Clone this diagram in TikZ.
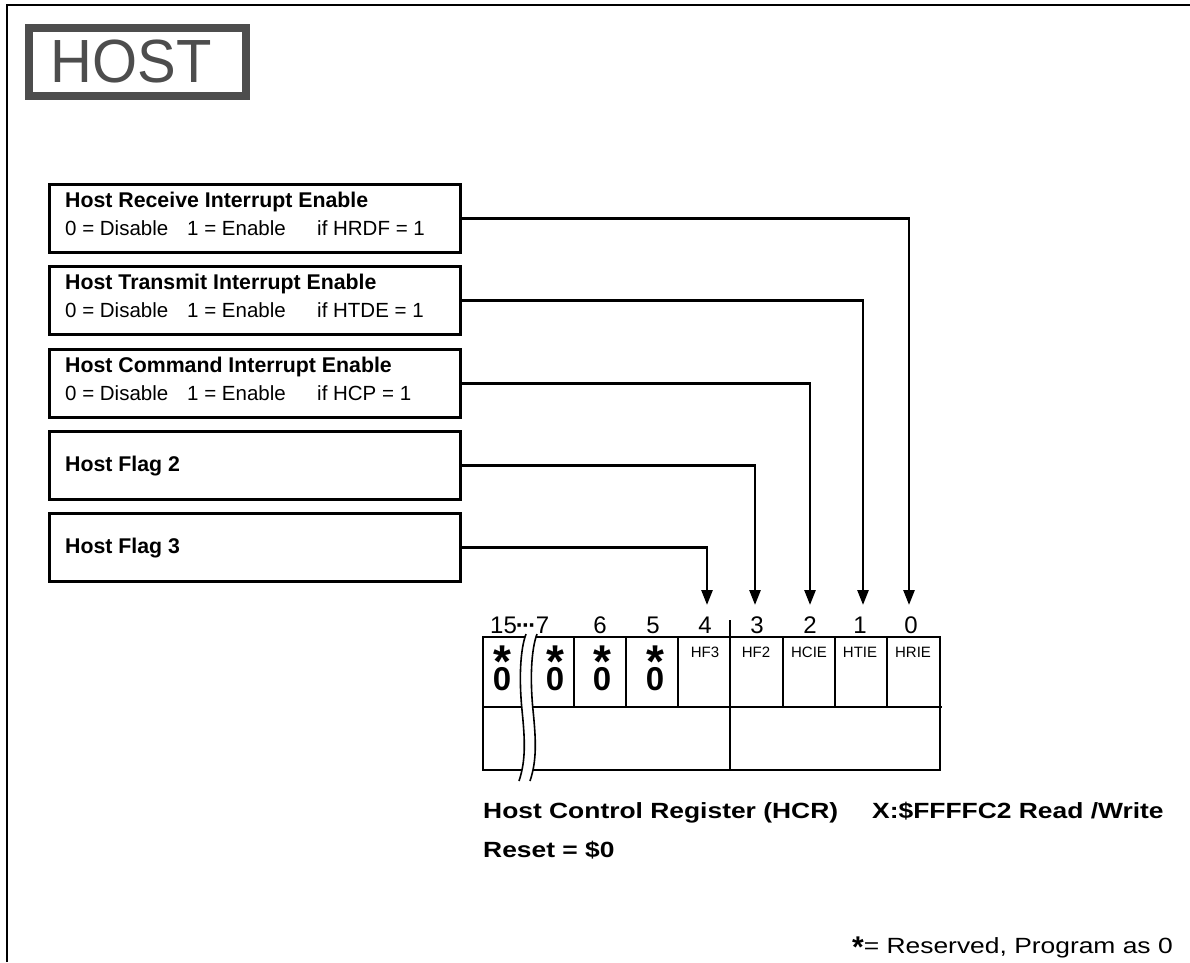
\documentclass[tikz,border=0pt]{standalone}
\usepackage{fontspec}
\usepackage{graphicx}
\setmainfont{Liberation Sans}
\usetikzlibrary{arrows.meta}
\newcommand{\fs}[1]{\fontsize{#1}{#1}\selectfont}
\newcommand{\xstretch}[2]{\scalebox{#1}[1]{#2}}
\newcommand{\starzero}{\makebox[18pt][c]{\fs{33}\bfseries 0}\kern-18pt\makebox[18pt][c]{\raisebox{12.5pt}{\fs{46}\bfseries *}}}
\definecolor{hostgray}{HTML}{4D4D4D}
\begin{document}
\begin{tikzpicture}[x=1pt,y=-1pt,
  frameline/.style={line width=2.5pt},
  hostframe/.style={draw=hostgray, line width=8pt, minimum width=217pt, minimum height=68pt, inner sep=0pt},
  hosttext/.style={text=hostgray, font=\fs{61}, anchor=base, inner sep=0pt},
  infobox/.style={draw, line width=2.8pt, minimum width=411pt, minimum height=68pt, anchor=north west, inner sep=0pt},
  boxtitle/.style={anchor=base west, inner sep=0pt, font=\fs{21.3}\bfseries},
  boxdesc/.style={anchor=base west, inner sep=0pt, font=\fs{20.5}},
  conn/.style={line width=2.6pt, -{Triangle[length=15pt,width=11pt]}},
  reg/.style={line width=2.5pt},
  breakline/.style={line width=1.6pt},
  bitnum/.style={anchor=base, inner sep=0pt, font=\fs{24}},
  rescell/.style={anchor=base, inner sep=0pt},
  cellname/.style={anchor=base, inner sep=0pt, font=\fs{15}},
  caption/.style={anchor=base west, inner sep=0pt, font=\fs{22}\bfseries},
  note/.style={anchor=base west, inner sep=0pt, font=\fs{22}}
]
\useasboundingbox (0,0) rectangle (1190,962);

% page frame (top and left)
\draw[frameline] (7,962) -- (7,5) -- (1190,5);

% HOST title
\node[hostframe] (hostbox) at (137.5,62) {};
\node[hosttext] (hostlabel) at (131,82) {\xstretch{0.95}{HOST}};

% description boxes
\node[infobox] (b1) at (48,183) {};
\node[infobox] (b2) at (48,265) {};
\node[infobox] (b3) at (48,348) {};
\node[infobox] (b4) at (48,430) {};
\node[infobox] (b5) at (48,512) {};

\node[boxtitle] (t1) at (65,207) {Host Receive Interrupt Enable};
\node[boxdesc] (d1a) at (65,235) {0 = Disable};
\node[boxdesc] (d1b) at (187,235) {1 = Enable};
\node[boxdesc] (d1c) at (317,235) {if HRDF = 1};

\node[boxtitle] (t2) at (65,289) {Host Transmit Interrupt Enable};
\node[boxdesc] (d2a) at (65,317) {0 = Disable};
\node[boxdesc] (d2b) at (187,317) {1 = Enable};
\node[boxdesc] (d2c) at (317,317) {if HTDE = 1};

\node[boxtitle] (t3) at (65,372) {Host Command Interrupt Enable};
\node[boxdesc] (d3a) at (65,400) {0 = Disable};
\node[boxdesc] (d3b) at (187,400) {1 = Enable};
\node[boxdesc] (d3c) at (317,400) {if HCP = 1};

\node[boxtitle] (t4) at (65,471) {Host Flag 2};
\node[boxtitle] (t5) at (65,553) {Host Flag 3};

% arrow targets
\coordinate (p0) at (909,605);
\coordinate (p1) at (863,605);
\coordinate (p2) at (810,605);
\coordinate (p3) at (755,605);
\coordinate (p4) at (707,605);

\draw[conn] (b1.east) -| (p0);
\draw[conn] (b2.east) -| (p1);
\draw[conn] (b3.east) -| (p2);
\draw[conn] (b4.east) -| (p3);
\draw[conn] (b5.east) -| (p4);

% register
\draw[reg] (483,637) rectangle (940,770);
\draw[reg] (483,707) -- (942,707);
\foreach \x in {574,626,678,783,835,887} \draw[reg] (\x,637) -- (\x,707);
\draw[reg] (730,620) -- (730,770);

% break
\fill[white] (526,634) .. controls (520,650) and (519,680) .. (522,710)
  .. controls (525,740) and (526,760) .. (519,781) -- (530,781)
  .. controls (537,760) and (536,740) .. (533,710)
  .. controls (530,680) and (531,650) .. (537,634) -- cycle;
\draw[breakline] (526,634) .. controls (520,650) and (519,680) .. (522,710)
  .. controls (525,740) and (526,760) .. (519,781);
\draw[breakline] (537,634) .. controls (531,650) and (530,680) .. (533,710)
  .. controls (536,740) and (537,760) .. (530,781);

% bit numbers
\node[bitnum, anchor=base west] (n15) at (490,633) {15\kern-1pt\textbf{·\kern-1.8pt·\kern-1.8pt·}\kern-0.5pt7};
\node[bitnum] (n6) at (600,633) {6};
\node[bitnum] (n5) at (653,633) {5};
\node[bitnum] (n4) at (705,633) {4};
\node[bitnum] (n3) at (757,633) {3};
\node[bitnum] (n2) at (810,633) {2};
\node[bitnum] (n1) at (860,633) {1};
\node[bitnum] (n0) at (911,633) {0};

% reserved cells
\node[rescell] (c15) at (502,690) {\starzero};
\node[rescell] (c7) at (555,690) {\starzero};
\node[rescell] (c6) at (602,690) {\starzero};
\node[rescell] (c5) at (655,690) {\starzero};

% named cells
\node[cellname] (hf3) at (705,657) {HF3};
\node[cellname] (hf2) at (756,657) {HF2};
\node[cellname] (hcie) at (809,657) {HCIE};
\node[cellname] (htie) at (860,657) {HTIE};
\node[cellname] (hrie) at (913,657) {HRIE};

% caption
\node[caption] (cap1) at (483,818) {\xstretch{1.2}{Host Control Register (HCR)}};
\node[caption] (cap2) at (872,818) {\xstretch{1.2}{X:\$FFFFC2 Read /Write}};
\node[caption] (cap3) at (483,857) {\xstretch{1.2}{Reset = \$0}};

% note
\node[note] (notetext) at (852,953) {\raisebox{-4pt}{\fs{30}\bfseries *}\xstretch{1.2}{= Reserved, Program as 0}};
\end{tikzpicture}
\end{document}
